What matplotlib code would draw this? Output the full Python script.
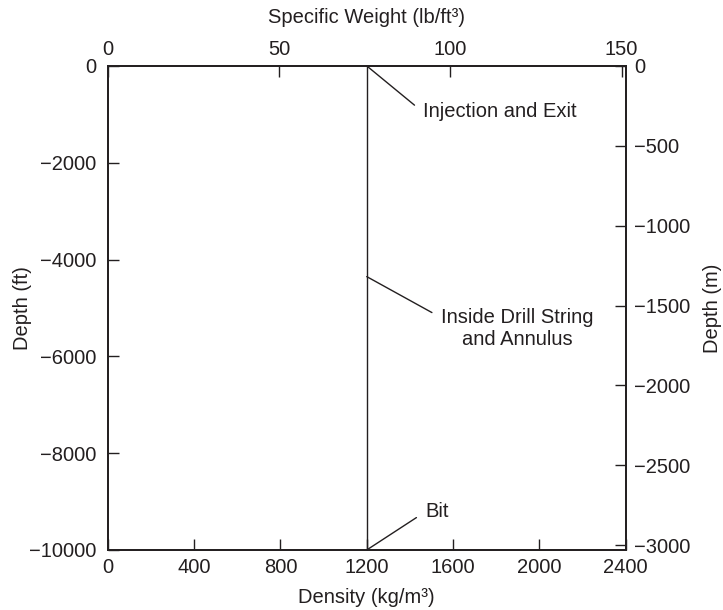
import matplotlib.pyplot as plt

plt.rcParams['font.family'] = ['Liberation Sans', 'DejaVu Sans']
plt.rcParams['axes.unicode_minus'] = True

ink = '#231f20'
fs = 14.5

# data: constant density line down the well
density = [1200, 1200]          # kg/m3
depth_ft = [0, -10000]          # ft

density_ticks = [0, 400, 800, 1200, 1600, 2000, 2400]
depth_ft_ticks = [0, -2000, -4000, -6000, -8000, -10000]
sw_ticks = [0, 50, 100, 150]
depth_m_ticks = [0, -500, -1000, -1500, -2000, -2500, -3000]

labels = ['Injection and Exit', 'Inside Drill String\nand Annulus', 'Bit']
label_depths = [0, -4353, -10000]

fig = plt.figure(figsize=(7.23, 6.10), dpi=100)
ax = fig.add_axes([0.149, 0.0984, 0.7165, 0.7936])

ax.plot(density, depth_ft, color=ink, lw=1.0)
ax.set_xlim(0, 2400)
ax.set_ylim(-10000, 0)
ax.set_xticks(density_ticks)
ax.set_yticks(depth_ft_ticks)
ax.set_xlabel('Density (kg/m³)', fontsize=fs, color=ink)
ax.set_ylabel('Depth (ft)', fontsize=fs, color=ink)
ax.xaxis.set_label_coords(0.5, -0.079)
ax.yaxis.set_label_coords(-0.146, 0.5)
ax.tick_params(direction='in', length=8, width=1, colors=ink, labelsize=fs)
ax.tick_params(axis='x', pad=6)
ax.tick_params(axis='y', pad=8)

# top axis: specific weight
ax_top = ax.twiny()
ax_top.set_xlim(0, 151.2)
ax_top.set_xticks(sw_ticks)
ax_top.set_xlabel('Specific Weight (lb/ft³)', fontsize=fs, color=ink, labelpad=12)
ax_top.tick_params(direction='in', length=8, width=1, colors=ink, labelsize=fs, pad=5)

# right axis: depth in metres
ax_r = ax.twinx()
ax_r.set_ylim(-3030, 0)
ax_r.set_yticks(depth_m_ticks)
ax_r.set_ylabel('Depth (m)', fontsize=fs, color=ink)
ax_r.yaxis.set_label_coords(1.149, 0.5)
ax_r.tick_params(direction='in', length=8, width=1, colors=ink, labelsize=fs, pad=6)

for a in (ax, ax_top, ax_r):
    for s in a.spines.values():
        s.set_linewidth(1.1)
        s.set_color(ink)

# annotations
text_pos = [(1459, -950), (1543, -5434), (1470, -9215)]
rel = [(0, 0.5), (0, 0.78), (0, 0.5)]
for lab, d, tp, rp in zip(labels, label_depths, text_pos, rel):
    ax.annotate(lab, xy=(density[0], d), xytext=tp, fontsize=fs, color=ink,
                ha='left', va='center', multialignment='center',
                arrowprops=dict(arrowstyle='-', color=ink, lw=1.0,
                                relpos=rp, shrinkA=5, shrinkB=0))

fig.savefig('out.png', dpi=100)
